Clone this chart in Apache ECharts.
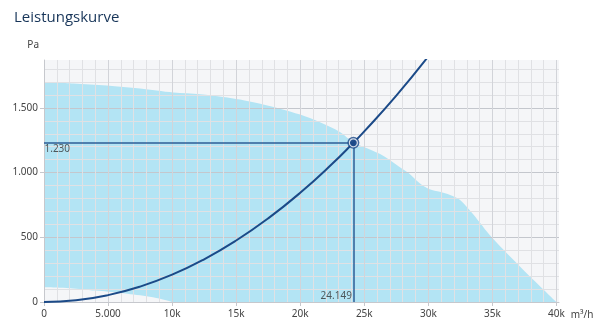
<!DOCTYPE html>
<html><head><meta charset="utf-8">
<script src="https://cdn.jsdelivr.net/npm/echarts@6/dist/echarts.min.js"></script>
<style>html,body{margin:0;padding:0;background:#fff}#c{width:600px;height:327px}</style>
</head><body><div id="c"></div>
<script>
// Fan operating range: upper boundary (m³/h, Pa)
const fanFlow     = [0, 2300, 4900, 7500, 10100, 12200, 14000, 15300, 16800, 18400, 20000, 21500, 23100, 24150, 26200, 27700, 28500, 29300, 30100, 30900, 31700, 32500, 33450, 35000, 37400, 40000];
const fanPressure = [1700, 1688, 1672, 1649, 1618, 1605, 1584, 1564, 1533, 1494, 1448, 1391, 1314, 1235, 1145, 1047, 993, 920, 872, 851, 826, 787, 684, 494, 250, 0];
// Lower boundary of the range
const lowFlow     = [0, 1000, 2000, 3000, 4000, 5000, 6000, 7000, 8000, 9000, 10000];
const lowPressure = [114, 112, 106, 97, 88, 80, 70, 58, 45, 27, 0];
// System curve
const sysFlow     = [0, 2500, 5000, 7500, 10000, 12500, 15000, 17500, 20000, 22500, 24149, 25000, 27500, 30000];
const sysPressure = [0, 13, 53, 119, 211, 330, 475, 646, 844, 1068, 1230, 1318, 1595, 1898];
// Operating point
const opFlow = 24149;
const opPressure = 1230;
// Tick labels
const xTickValues = [0, 5000, 10000, 15000, 20000, 25000, 30000, 35000, 40000];
const yTickValues = [0, 500, 1000, 1500];

const de = v => String(v).replace(/\B(?=(\d{3})+(?!\d))/g, '.');
const zip = (a, b) => a.map((x, i) => [x, b[i]]);
const navy = '#1b4a88';
const labelColor = '#444';
const font = 'Noto Sans';

const chart = echarts.init(document.getElementById('c'));
chart.setOption({
  animation: false,
  textStyle: { fontFamily: font },
  title: {
    text: 'Leistungskurve', left: 9, top: 5,
    textStyle: { fontFamily: 'Open Sans', fontSize: 15, fontWeight: 500, color: '#173559' }
  },
  grid: { left: 44, right: 41, top: 60, bottom: 25, show: true, backgroundColor: '#f5f6f8', borderWidth: 0 },
  xAxis: {
    type: 'value', min: 0, max: 40200, interval: 5000, z: 3,
    name: 'm³/h', nameLocation: 'end', nameGap: 11,
    nameTextStyle: { fontSize: 10, color: labelColor, verticalAlign: 'top', padding: [8, 0, 0, 0] },
    axisLine: { show: true, lineStyle: { color: '#c6c8cd' } },
    axisTick: { show: true, length: 4, lineStyle: { color: '#c6c8cd' }, customValues: xTickValues },
    axisLabel: { fontSize: 10, color: labelColor, margin: 7, customValues: xTickValues,
      formatter: v => v >= 10000 ? (v / 1000) + 'k' : de(v) },
    splitLine: { show: true, lineStyle: { color: '#d2d4d9' } },
    minorTick: { show: false, splitNumber: 5 },
    minorSplitLine: { show: true, lineStyle: { color: '#e0e1e4' } }
  },
  yAxis: {
    type: 'value', min: 0, max: 1870, interval: 500, z: 3,
    name: 'Pa', nameLocation: 'end', nameGap: 10,
    nameTextStyle: { fontSize: 10, color: labelColor, align: 'right', padding: [0, 5, 0, 0] },
    axisLine: { show: true, lineStyle: { color: '#c6c8cd' } },
    axisTick: { show: true, length: 4, lineStyle: { color: '#c6c8cd' }, customValues: yTickValues },
    axisLabel: { fontSize: 10, color: labelColor, margin: 6, customValues: yTickValues, formatter: v => de(v) },
    splitLine: { show: true, lineStyle: { color: '#c4c7cd' } },
    minorTick: { show: false, splitNumber: 5 },
    minorSplitLine: { show: true, lineStyle: { color: '#e0e1e4' } }
  },
  series: [
    {
      type: 'line', name: 'range', z: 1, smooth: 0.3, symbol: 'none', silent: true,
      data: zip(fanFlow, fanPressure),
      lineStyle: { width: 0 },
      areaStyle: { color: '#b3e4f4', opacity: 1 }
    },
    {
      type: 'line', name: 'rangeLow', z: 1, smooth: 0.3, symbol: 'none', silent: true,
      data: zip(lowFlow, lowPressure),
      lineStyle: { width: 0 },
      areaStyle: { color: '#f5f6f8', opacity: 1 }
    },
    {
      type: 'line', name: 'system', z: 5, smooth: true, symbol: 'none',
      data: zip(sysFlow, sysPressure),
      lineStyle: { color: navy, width: 2 },
      markLine: {
        silent: true, symbol: 'none', animation: false,
        lineStyle: { color: '#2d5e96', width: 1.5, type: 'solid' },
        label: { show: false },
        data: [
          [{ coord: [0, opPressure] }, { coord: [opFlow, opPressure] }],
          [{ coord: [opFlow, opPressure] }, { coord: [opFlow, 0] }]
        ]
      }
    },
    {
      type: 'scatter', z: 6, symbolSize: 12, itemStyle: { color: navy },
      data: [[opFlow, opPressure]]
    },
    {
      type: 'scatter', z: 7, symbolSize: 8, itemStyle: { color: navy, borderColor: '#ffffff', borderWidth: 1.2 },
      data: [[opFlow, opPressure]]
    },
    {
      type: 'scatter', z: 7, symbolSize: 1, itemStyle: { color: 'rgba(0,0,0,0)' }, silent: true,
      data: [
        { value: [0, opPressure], label: { show: true, position: 'right', distance: 0, offset: [0, 6], formatter: de(opPressure) } },
        { value: [opFlow, 0], label: { show: true, position: 'left', distance: 1, offset: [0, -6], formatter: de(opFlow) } }
      ],
      label: { fontSize: 10, color: '#333' }
    }
  ]
});
</script></body></html>
